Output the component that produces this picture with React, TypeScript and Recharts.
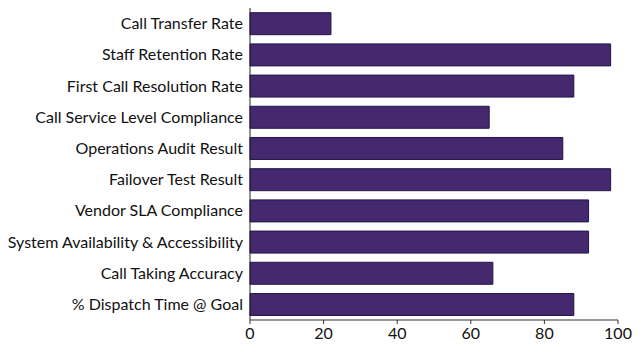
import React from "react";
import { BarChart, Bar, XAxis, YAxis } from "recharts";

const categories = [
  "Call Transfer Rate",
  "Staff Retention Rate",
  "First Call Resolution Rate",
  "Call Service Level Compliance",
  "Operations Audit Result",
  "Failover Test Result",
  "Vendor SLA Compliance",
  "System Availability & Accessibility",
  "Call Taking Accuracy",
  "% Dispatch Time @ Goal",
];
const scores = [22, 98, 88, 65, 85, 98, 92, 92, 66, 88];
const xTicks = [0, 20, 40, 60, 80, 100];

const data = categories.map((name, i) => ({ name, score: scores[i] }));

const font = "Lato, 'Open Sans', sans-serif";

export default function App() {
  return (
    <div style={{ position: "absolute", left: 0, top: 0, background: "#fff" }}>
      <BarChart
        width={640}
        height={352}
        data={data}
        layout="vertical"
        barCategoryGap="15%"
        margin={{ top: 8, right: 22, left: 0, bottom: 0 }}
      >
        <XAxis
          type="number"
          domain={[0, 100]}
          ticks={xTicks}
          height={32}
          tick={{ fontSize: 16, fill: "#111", fontFamily: font }}
          axisLine={{ stroke: "#333" }}
          tickLine={{ stroke: "#333" }}
          tickSize={4}
          tickMargin={4}
        />
        <YAxis
          type="category"
          dataKey="name"
          width={250}
          interval={0}
          tick={{ fontSize: 16, fill: "#111", fontFamily: font }}
          axisLine={{ stroke: "#222" }}
          tickLine={false}
          tickSize={0}
          tickMargin={7}
        />
        <Bar dataKey="score" fill="#44296f" stroke="#23154a" strokeWidth={1} isAnimationActive={false} />
      </BarChart>
    </div>
  );
}
